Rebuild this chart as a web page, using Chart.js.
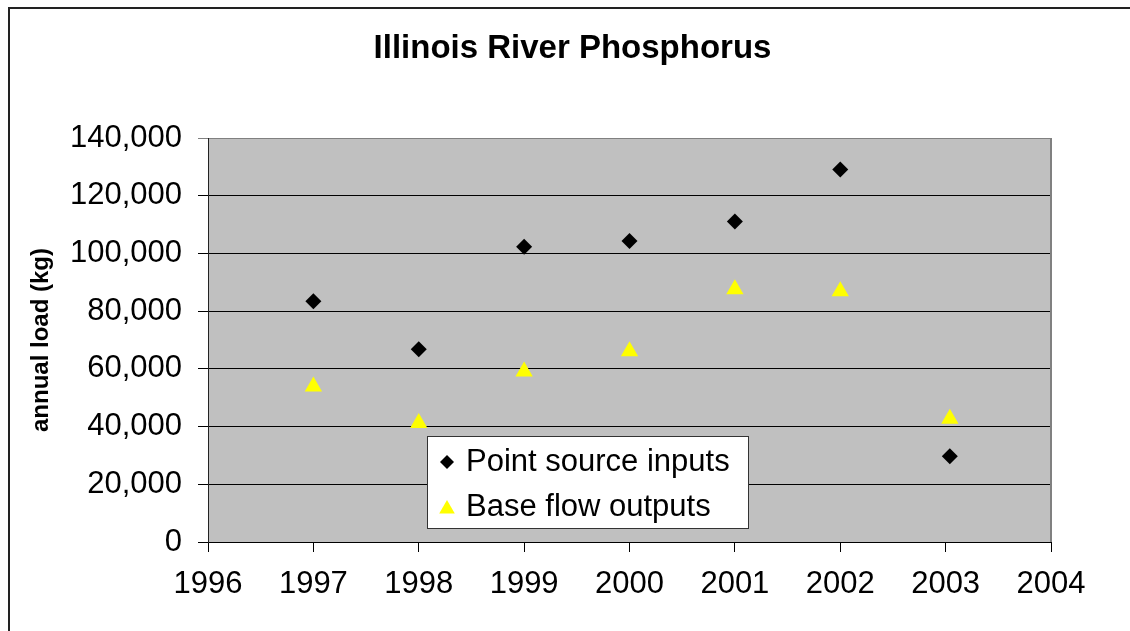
<!DOCTYPE html>
<html>
<head>
<meta charset="utf-8">
<title>Illinois River Phosphorus</title>
<script src="https://cdn.jsdelivr.net/npm/chart.js"></script>
<style>
  html, body { margin: 0; padding: 0; background: #fff; overflow: hidden; }
  #wrap { position: relative; width: 1130px; height: 631px; }
  #frame { position: absolute; left: 8px; top: 7px; width: 1140px; height: 640px;
    border: 2px solid #222; box-sizing: border-box; }
  #chart { position: absolute; left: 0; top: 0; }
</style>
</head>
<body>
<div id="wrap">
  <div id="frame"></div>
  <canvas id="chart" width="1130" height="631"></canvas>
</div>
<script>
// values
var years = [1997, 1998, 1999, 2000, 2001, 2002, 2003.04]
var pointSource = [83400, 66800, 102300, 104300, 111100, 129100, 29700]
var baseFlow = [53900, 41200, 59100, 66100, 87600, 86900, 42700]
var seriesNames = ['Point source inputs', 'Base flow outputs']
var yTicks = [0, 20000, 40000, 60000, 80000, 100000, 120000, 140000]
var xTicks = [1996, 1997, 1998, 1999, 2000, 2001, 2002, 2003, 2004]

var toPoints = function(xs, ys){
  return xs.map(function(x, i){ return {x: x, y: ys[i]} })
}

Chart.defaults.font.family = '"Liberation Sans", Arial, sans-serif'
Chart.defaults.color = '#000'

// grey plot area + right frame edge
var plotFrame = {
  id: 'plotFrame',
  beforeDraw: function(chart){
    var a = chart.chartArea, ctx = chart.ctx
    ctx.save()
    ctx.fillStyle = '#c0c0c0'
    ctx.fillRect(a.left, a.top, a.right - a.left, a.bottom - a.top)
    ctx.restore()
  },
  beforeDatasetsDraw: function(chart){
    var a = chart.chartArea, ctx = chart.ctx
    ctx.save()
    ctx.strokeStyle = '#808080'
    ctx.lineWidth = 2
    ctx.beginPath()
    ctx.moveTo(a.right, a.top)
    ctx.lineTo(a.right, a.bottom)
    ctx.stroke()
    ctx.restore()
  }
}

// boxed legend sitting inside the plot, like the Excel one
var boxLegend = {
  id: 'boxLegend',
  afterDraw: function(chart){
    var ctx = chart.ctx
    var bx = 427, by = 436, bw = 321, bh = 92
    ctx.save()
    ctx.fillStyle = '#fff'
    ctx.fillRect(bx, by, bw, bh)
    ctx.strokeStyle = '#333'
    ctx.lineWidth = 1
    ctx.strokeRect(bx + 0.5, by + 0.5, bw, bh)
    chart.data.datasets.forEach(function(ds, i){
      var cy = by + 26 + i * 45
      ctx.fillStyle = ds.backgroundColor
      ctx.strokeStyle = ds.borderColor
      Chart.helpers.drawPoint(ctx, {
        pointStyle: ds.pointStyle,
        radius: ds.pointStyle === 'triangle' ? 9 : 7,
        borderWidth: 0,
        rotation: 0
      }, bx + 20, cy + (ds.pointStyle === 'triangle' ? 2 : 0))
      ctx.fillStyle = '#000'
      ctx.font = '31px "Liberation Sans", Arial, sans-serif'
      ctx.textBaseline = 'middle'
      ctx.textAlign = 'left'
      ctx.fillText(ds.label, bx + 39, cy)
    })
    ctx.restore()
  }
}

new Chart(document.getElementById('chart'), {
  type: 'scatter',
  data: {
    datasets: [
      {
        label: seriesNames[0],
        data: toPoints(years, pointSource),
        pointStyle: 'rectRot',
        pointRadius: 8,
        pointHoverRadius: 8,
        borderWidth: 0,
        backgroundColor: '#000',
        borderColor: '#000'
      },
      {
        label: seriesNames[1],
        data: toPoints(years, baseFlow),
        pointStyle: 'triangle',
        pointRadius: 10,
        pointHoverRadius: 10,
        borderWidth: 0,
        backgroundColor: '#ffff00',
        borderColor: '#ffff00'
      }
    ]
  },
  options: {
    responsive: false,
    animation: false,
    devicePixelRatio: 1,
    layout: {padding: {left: 15, right: 0, top: 0, bottom: 0}},
    plugins: {
      legend: {display: false},
      tooltip: {enabled: false},
      title: {
        display: true,
        text: 'Illinois River Phosphorus',
        color: '#000',
        font: {size: 33, weight: 'bold'},
        padding: {top: 29, bottom: 69.4}
      }
    },
    scales: {
      x: {
        type: 'linear',
        min: xTicks[0],
        max: xTicks[xTicks.length - 1],
        afterBuildTicks: function(s){
          s.ticks = xTicks.map(function(v){ return {value: v} })
        },
        ticks: {
          callback: function(v){ return String(v) },
          padding: 14,
          maxRotation: 0,
          autoSkip: false,
          font: {size: 31}
        },
        grid: {drawOnChartArea: false, tickLength: 10, color: '#000'},
        border: {color: '#000'},
        afterFit: function(s){ s.height = 89 }
      },
      y: {
        min: yTicks[0],
        max: yTicks[yTicks.length - 1],
        afterBuildTicks: function(s){
          s.ticks = yTicks.map(function(v){ return {value: v} })
        },
        ticks: {
          callback: function(v){ return v.toLocaleString('en-US') },
          padding: 16,
          font: {size: 31}
        },
        grid: {
          tickLength: 10,
          color: function(c){ return c.tick && c.tick.value === 140000 ? '#808080' : '#000' }
        },
        border: {color: '#222'},
        title: {
          display: true,
          text: 'annual load (kg)',
          font: {size: 24, weight: 'bold'},
          padding: {top: 12, bottom: 0}
        },
        afterFit: function(s){ s.width = 193 }
      },
      y2: {
        position: 'right',
        display: true,
        grid: {display: false},
        border: {display: false},
        ticks: {display: false},
        afterFit: function(s){ s.width = 79 }
      }
    }
  },
  plugins: [plotFrame, boxLegend]
})
</script>
</body>
</html>
